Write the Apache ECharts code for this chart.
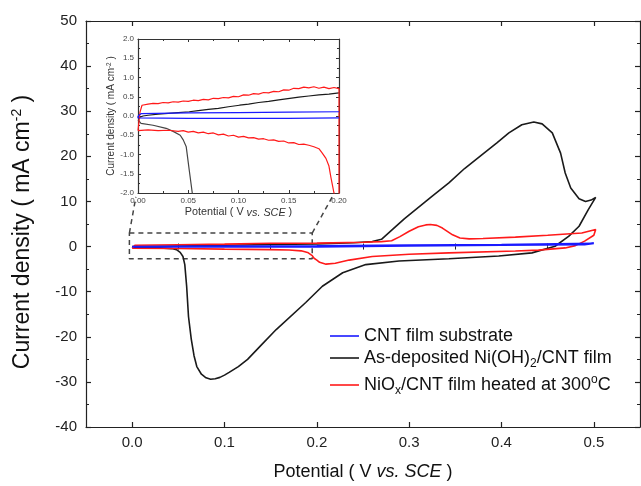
<!DOCTYPE html>
<html>
<head>
<meta charset="utf-8">
<script src="https://cdn.jsdelivr.net/npm/echarts@6/dist/echarts.min.js"></script>
<style>
html,body{margin:0;padding:0;background:#fff;}
#chart{width:641px;height:486px;}
</style>
</head>
<body>
<div id="chart"></div>
<script>
// ---- data ----
const seriesNames = ['CNT film substrate', 'As-deposited Ni(OH)2/CNT film', 'NiOx/CNT film heated at 300oC'];
const xMainTicks = [0, 0.1, 0.2, 0.3, 0.4, 0.5];
const xMainMinor = [0.05, 0.15, 0.25, 0.35, 0.45];

// main panel: potential (V) , current density (mA cm-2), in scan order
const blueMain = [[0,0],[0.05,0.06],[0.1,0.1],[0.2,0.15],[0.3,0.3],[0.4,0.45],[0.5,0.7],[0.49,0.45],[0.4,0.3],[0.3,0.15],[0.2,-0.05],[0.1,-0.05],[0,-0.05]];
const blackMain = [[0,0],[0.05,0.12],[0.1,0.28],[0.15,0.45],[0.2,0.6],[0.24,0.85],[0.26,1.1],[0.27,1.6],[0.282,3.8],[0.295,6.2],[0.307,8.2],[0.325,11.2],[0.343,14.1],[0.36,17.3],[0.379,20.4],[0.395,23],[0.408,25.2],[0.422,27],[0.435,27.6],[0.444,27.2],[0.455,25.2],[0.464,20.7],[0.469,16.3],[0.475,13],[0.484,10.6],[0.491,10],[0.497,10.3],[0.502,10.9],
  [0.494,8.2],[0.484,4.5],[0.473,2.3],[0.458,0.07],[0.433,-1.4],[0.397,-2.1],[0.343,-2.7],[0.289,-3.2],[0.253,-4.0],[0.228,-5.8],[0.206,-8.8],[0.188,-12.4],[0.156,-18.4],[0.14,-21.8],[0.125,-25],[0.115,-26.6],[0.105,-27.9],[0.1,-28.5],[0.095,-29],[0.09,-29.3],[0.085,-29.4],[0.08,-29.1],[0.075,-28.3],[0.07,-26.6],[0.067,-24.2],[0.064,-20.5],[0.061,-15.5],[0.059,-8.8],[0.057,-4.0],[0.055,-2.2],[0.052,-1.3],[0.048,-0.7],[0.043,-0.45],[0.03,-0.3],[0.003,-0.2],[0,0]];
const redMain = [[0,-0.4],[0.003,0.3],[0.05,0.41],[0.1,0.54],[0.15,0.72],[0.2,0.75],[0.25,0.95],[0.27,1.1],[0.281,1.3],[0.29,2.2],[0.3,3.4],[0.31,4.4],[0.318,4.8],[0.323,4.9],[0.33,4.7],[0.336,4.1],[0.347,2.6],[0.355,1.9],[0.365,1.7],[0.38,1.8],[0.415,2.1],[0.45,2.5],[0.487,3.0],[0.502,3.8],
  [0.5,2.5],[0.49,1.2],[0.48,0.2],[0.469,-0.3],[0.44,-0.8],[0.415,-1.0],[0.343,-1.4],[0.3,-1.7],[0.26,-2.2],[0.235,-3.0],[0.22,-3.7],[0.21,-3.9],[0.203,-3.5],[0.2,-3.0],[0.197,-2.6],[0.195,-2.0],[0.19,-1.3],[0.183,-0.95],[0.17,-0.76],[0.15,-0.67],[0.1,-0.58],[0.05,-0.42],[0,-0.38]];

// zoomed region marker (main panel coordinates)
const zoomBox = [[-0.003,3],[0.195,3],[0.195,-2.7],[-0.003,-2.7],[-0.003,3]];
const zoomLinks = [[-0.003,3],[0.004,11],'-',[0.195,3],[0.218,11.5]];

// inset panel
const blueInsetUp = [[0,0],[0.003,0.06],[0.05,0.08],[0.1,0.09],[0.15,0.1],[0.2,0.11]];
const blueInsetDown = [[0.2,-0.05],[0.15,-0.06],[0.1,-0.06],[0.05,-0.06],[0,-0.05],[0,0]];
const blackInsetUp = [[0,-0.05],[0.005,0.0],[0.01,0.02],[0.02,0.05],[0.03,0.07],[0.04,0.09],[0.051,0.11],[0.06,0.14],[0.07,0.17],[0.08,0.2],[0.09,0.24],[0.101,0.28],[0.11,0.31],[0.12,0.35],[0.13,0.38],[0.14,0.42],[0.151,0.46],[0.16,0.49],[0.17,0.52],[0.18,0.55],[0.19,0.57],[0.2,0.6]];
const blackInsetDown = [[0.065,-25],[0.06,-10],[0.056,-3.5],[0.054,-2.0],[0.051,-1.41],[0.048,-0.8],[0.045,-0.62],[0.042,-0.5],[0.035,-0.4],[0.028,-0.32],[0.015,-0.24],[0.003,-0.19],[0,-0.1]];
const redInset = [[0,-0.38],[0.002,0.1],[0.004,0.28],[0.01,0.31],[0.015,0.33],[0.02,0.32],[0.025,0.35],[0.03,0.34],[0.035,0.37],[0.04,0.36],[0.045,0.39],[0.05,0.38],[0.055,0.41],[0.06,0.40],[0.065,0.43],[0.07,0.42],[0.075,0.46],[0.08,0.45],[0.085,0.48],[0.09,0.47],[0.095,0.51],[0.1,0.50],[0.105,0.55],[0.11,0.54],[0.115,0.58],[0.12,0.57],[0.125,0.61],[0.13,0.60],[0.135,0.64],[0.14,0.63],[0.145,0.68],[0.15,0.67],[0.155,0.72],[0.16,0.71],[0.165,0.75],[0.17,0.73],[0.175,0.76],[0.18,0.72],[0.185,0.75],[0.19,0.71],[0.195,0.74],[0.2,0.71],
  [0.2,-2.6],[0.197,-2.2],[0.195,-2.0],[0.192,-1.6],[0.19,-1.3],[0.187,-1.1],[0.183,-0.95],[0.18,-0.85],[0.175,-0.8],[0.17,-0.76],[0.165,-0.73],[0.16,-0.74],[0.155,-0.69],[0.15,-0.70],[0.145,-0.65],[0.14,-0.66],[0.135,-0.62],[0.13,-0.63],[0.125,-0.59],[0.12,-0.6],[0.115,-0.56],[0.11,-0.57],[0.105,-0.53],[0.1,-0.55],[0.095,-0.5],[0.09,-0.52],[0.085,-0.47],[0.08,-0.49],[0.075,-0.44],[0.07,-0.46],[0.065,-0.42],[0.06,-0.44],[0.055,-0.4],[0.05,-0.42],[0.045,-0.38],[0.04,-0.4],[0.03,-0.37],[0.02,-0.38],[0.01,-0.36],[0,-0.38]];

// ---- chart ----
const FONT = 'Liberation Sans';
const BLUE = '#1a1aff', BLACK = '#1a1a1a', RED = '#ff1a1a';
const AX = '#222';

function mainX(extra) {
  return Object.assign({
    type: 'value', gridIndex: 0, min: -0.05, max: 0.55,
    axisLine: {show: true, onZero: false, lineStyle: {color: AX, width: 1.2}},
    splitLine: {show: false}
  }, extra);
}
function mainY(extra) {
  return Object.assign({
    type: 'value', gridIndex: 0, min: -40, max: 50, interval: 10,
    axisLine: {show: true, onZero: false, lineStyle: {color: AX, width: 1.2}},
    axisTick: {show: true, inside: true, length: 5, lineStyle: {color: AX, width: 1.2}},
    minorTick: {show: true, splitNumber: 2, length: 3, lineStyle: {color: AX, width: 1}},
    splitLine: {show: false}
  }, extra);
}
const insetLabel = {fontSize: 8, fontFamily: FONT, color: '#444', margin: 4};

const option = {
  animation: false,
  backgroundColor: '#fff',
  grid: [
    {left: 86, right: 1, top: 21, bottom: 58},
    {left: 138, top: 39, width: 201, height: 154, show: true, backgroundColor: '#fff', borderWidth: 0, z: 5}
  ],
  legend: {
    data: [seriesNames[0], seriesNames[1], seriesNames[2]],
    orient: 'vertical', left: 325, top: 322, itemGap: 4, itemWidth: 29, itemHeight: 1.6,
    icon: 'rect',
    formatter: function (n) {
      if (n === seriesNames[1]) return 'As-deposited Ni(OH){sub|2}/CNT film';
      if (n === seriesNames[2]) return 'NiO{sub|x}/CNT film heated at 300{sup|o}C';
      return n;
    },
    textStyle: {fontSize: 18, fontFamily: FONT, color: '#111',
      rich: {
        sub: {fontSize: 12, fontFamily: FONT, color: '#111', padding: [11, 0, 0, 0]},
        sup: {fontSize: 12, fontFamily: FONT, color: '#111', padding: [0, 0, 11, 0]}
      }}
  },
  xAxis: [
    mainX({position: 'bottom',
      name: 'Potential ( V {i|vs. SCE} )', nameLocation: 'middle', nameGap: 36,
      nameTextStyle: {fontSize: 18, fontFamily: FONT, color: '#111', rich: {i: {fontSize: 18, fontFamily: FONT, fontStyle: 'italic', color: '#111'}}},
      axisTick: {show: true, inside: true, length: 5, customValues: xMainTicks, lineStyle: {color: AX, width: 1.2}},
      axisLabel: {show: true, customValues: xMainTicks, fontSize: 15, fontFamily: FONT, color: '#222', margin: 8, formatter: v => v.toFixed(1)}}),
    mainX({position: 'top',
      axisTick: {show: true, inside: true, length: 5, customValues: xMainTicks, lineStyle: {color: AX, width: 1.2}},
      axisLabel: {show: false}}),
    mainX({position: 'bottom', axisLine: {show: false},
      axisTick: {show: true, inside: true, length: 3, customValues: xMainMinor, lineStyle: {color: AX, width: 1}},
      axisLabel: {show: false}}),
    mainX({position: 'top', axisLine: {show: false},
      axisTick: {show: true, inside: true, length: 3, customValues: xMainMinor, lineStyle: {color: AX, width: 1}},
      axisLabel: {show: false}}),
    {type: 'value', gridIndex: 1, position: 'bottom', min: 0, max: 0.2, interval: 0.05,
      name: 'Potential ( V {i|vs. SCE} )', nameLocation: 'middle', nameGap: 14,
      nameTextStyle: {fontSize: 10.8, fontFamily: FONT, color: '#333', rich: {i: {fontSize: 10.8, fontFamily: FONT, fontStyle: 'italic', color: '#333'}}},
      axisLine: {show: true, onZero: false, lineStyle: {color: '#333', width: 1.2}},
      axisTick: {show: true, inside: true, length: 3, lineStyle: {color: '#333'}},
      minorTick: {show: true, splitNumber: 2, length: 2, lineStyle: {color: '#333'}},
      axisLabel: Object.assign({formatter: v => v.toFixed(2)}, insetLabel),
      splitLine: {show: false}, z: 6},
    {type: 'value', gridIndex: 1, position: 'top', min: 0, max: 0.2, interval: 0.05,
      axisLine: {show: true, onZero: false, lineStyle: {color: '#333', width: 1.2}},
      axisTick: {show: true, inside: true, length: 3, lineStyle: {color: '#333'}},
      minorTick: {show: true, splitNumber: 2, length: 2, lineStyle: {color: '#333'}},
      axisLabel: {show: false}, splitLine: {show: false}, z: 6}
  ],
  yAxis: [
    mainY({position: 'left',
      name: 'Current density ( mA cm{sup|-2} )', nameLocation: 'middle', nameGap: 50,
      nameTextStyle: {fontSize: 23, fontFamily: FONT, color: '#111', padding: [0, 16, 0, 0],
        rich: {sup: {fontSize: 14, fontFamily: FONT, color: '#111', padding: [0, 0, 12, 0]}}},
      axisLabel: {fontSize: 15, fontFamily: FONT, color: '#222', margin: 9}}),
    mainY({position: 'right', axisLabel: {show: false}}),
    {type: 'value', gridIndex: 1, position: 'left', min: -2, max: 2, interval: 0.5,
      name: 'Current density ( mA cm{sup|-2} )', nameLocation: 'middle', nameGap: 20,
      nameTextStyle: {fontSize: 10, fontFamily: FONT, color: '#333', rich: {sup: {fontSize: 6.5, fontFamily: FONT, color: '#333', padding: [0, 0, 5, 0]}}},
      axisLine: {show: true, onZero: false, lineStyle: {color: '#333', width: 1.2}},
      axisTick: {show: true, inside: true, length: 3, lineStyle: {color: '#333'}},
      minorTick: {show: true, splitNumber: 2, length: 2, lineStyle: {color: '#333'}},
      axisLabel: Object.assign({formatter: v => v.toFixed(1)}, insetLabel),
      splitLine: {show: false}, z: 6},
    {type: 'value', gridIndex: 1, position: 'right', min: -2, max: 2, interval: 0.5,
      axisLine: {show: true, onZero: false, lineStyle: {color: '#333', width: 1.2}},
      axisTick: {show: true, inside: true, length: 3, lineStyle: {color: '#333'}},
      minorTick: {show: true, splitNumber: 2, length: 2, lineStyle: {color: '#333'}},
      axisLabel: {show: false}, splitLine: {show: false}, z: 6}
  ],
  series: [
    {name: 'zoombox', type: 'line', xAxisIndex: 0, yAxisIndex: 0, data: zoomBox, symbol: 'none', silent: true,
      lineStyle: {color: '#444', width: 1.5, type: [5, 4]}, z: 1},
    {name: 'zoomlinks', type: 'line', xAxisIndex: 0, yAxisIndex: 0, data: zoomLinks, symbol: 'none', silent: true,
      lineStyle: {color: '#444', width: 1.5, type: [5, 4]}, z: 1},
    {name: seriesNames[1], type: 'line', xAxisIndex: 0, yAxisIndex: 0, data: blackMain, symbol: 'none', color: BLACK, lineStyle: {color: BLACK, width: 1.6}},
    {name: seriesNames[2], type: 'line', xAxisIndex: 0, yAxisIndex: 0, data: redMain, symbol: 'none', color: RED, lineStyle: {color: RED, width: 1.6}},
    {name: seriesNames[0], type: 'line', xAxisIndex: 0, yAxisIndex: 0, data: blueMain, symbol: 'none', color: BLUE, lineStyle: {color: BLUE, width: 1.8}},
    {name: seriesNames[1], type: 'line', xAxisIndex: 4, yAxisIndex: 2, data: blackInsetUp, symbol: 'none', color: BLACK, lineStyle: {color: BLACK, width: 1.2}, z: 7},
    {name: seriesNames[1], type: 'line', xAxisIndex: 4, yAxisIndex: 2, data: blackInsetDown, symbol: 'none', color: BLACK, lineStyle: {color: '#444', width: 1.2}, z: 7},
    {name: seriesNames[2], type: 'line', xAxisIndex: 4, yAxisIndex: 2, data: redInset, symbol: 'none', color: RED, lineStyle: {color: RED, width: 1.2}, z: 7},
    {name: seriesNames[0], type: 'line', xAxisIndex: 4, yAxisIndex: 2, data: blueInsetUp, symbol: 'none', color: BLUE, lineStyle: {color: BLUE, width: 1.2}, z: 7},
    {name: seriesNames[0], type: 'line', xAxisIndex: 4, yAxisIndex: 2, data: blueInsetDown, symbol: 'none', color: BLUE, lineStyle: {color: BLUE, width: 1.2}, z: 7}
  ]
};
const chart = echarts.init(document.getElementById('chart'), null, {renderer: 'canvas'});
chart.setOption(option);
</script>
</body>
</html>
